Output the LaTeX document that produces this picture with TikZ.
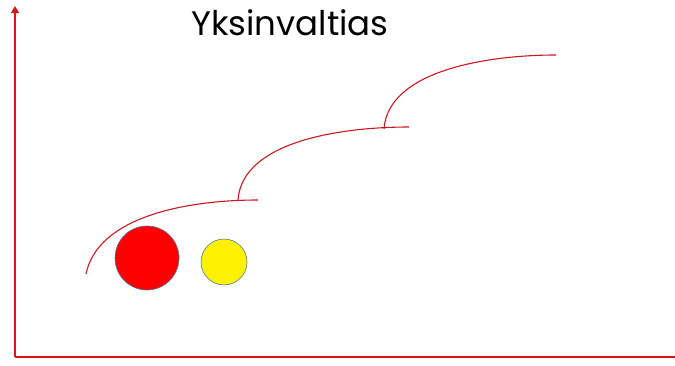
\documentclass[tikz,border=0pt]{standalone}
\usepackage{fontspec}
\setmainfont{Poppins}
\usetikzlibrary{arrows.meta}
\definecolor{axisred}{RGB}{220,20,20}
\definecolor{curvered}{RGB}{200,25,30}
\definecolor{ringblue}{RGB}{70,120,160}
\begin{document}
\begin{tikzpicture}[x=1pt,y=-1pt,
  axis/.style={draw=axisred,line width=1.3pt},
  stair/.style={draw=curvered,line width=1.1pt},
  ball/.style={circle,draw=ringblue,line width=0.6pt,inner sep=0pt}]
\useasboundingbox (0,0) rectangle (675,365);
\coordinate (o) at (15,357);
\coordinate (ytop) at (15,6);
\coordinate (xend) at (675,357);
\draw[axis,-{Triangle[length=7pt,width=8pt]}] (o) -- (ytop);
\draw[axis] (o) -- (xend);
\node[font=\fontsize{34}{38}\selectfont] (title) at (290,23) {Yksinvaltias};
\coordinate (a1) at (86,274);
\coordinate (b1) at (258,200);
\coordinate (a2) at (238,200);
\coordinate (b2) at (409,127);
\coordinate (a3) at (384,129);
\coordinate (b3) at (556,55);
\draw[stair] (a1) .. controls +(12,-58) and +(-70,0) .. (b1);
\draw[stair] (a2) .. controls +(4,-58) and +(-70,0) .. (b2);
\draw[stair] (a3) .. controls +(4,-58) and +(-70,0) .. (b3);
\node[ball,fill=red,minimum size=64pt] (red) at (147,258) {};
\node[ball,fill=yellow,minimum size=46pt] (yel) at (224,262) {};
\end{tikzpicture}
\end{document}
